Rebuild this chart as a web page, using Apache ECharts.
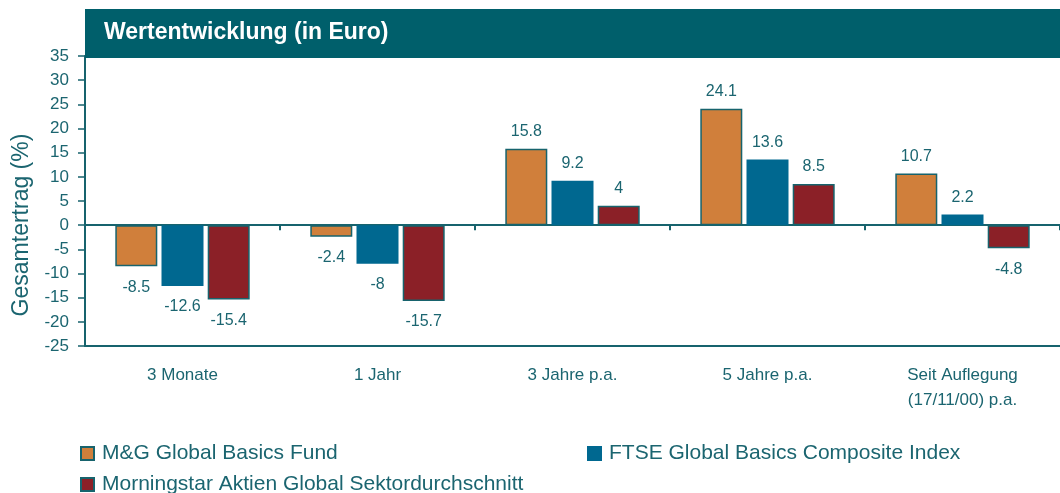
<!DOCTYPE html>
<html>
<head>
<meta charset="utf-8">
<script src="https://cdn.jsdelivr.net/npm/echarts@6/dist/echarts.min.js"></script>
<style>
  html, body { margin: 0; padding: 0; background: #fff; }
  #chart { width: 1060px; height: 493px; }
</style>
</head>
<body>
<div id="chart"></div>
<script>
// data
const categories = ['3 Monate', '1 Jahr', '3 Jahre p.a.', '5 Jahre p.a.', 'Seit Auflegung\n(17/11/00) p.a.']
const seriesNames = ['M&G Global Basics Fund', 'FTSE Global Basics Composite Index', 'Morningstar Aktien Global Sektordurchschnitt']
const fundValues = [-8.5, -2.4, 15.8, 24.1, 10.7]
const indexValues = [-12.6, -8, 9.2, 13.6, 2.2]
const sectorValues = [-15.4, -15.7, 4, 8.5, -4.8]

const teal = '#17636D'
const textCol = '#1B6570'
const colors = ['#D07F3B', '#006890', '#8B2027']
const borders = [teal, '#006890', teal]

const chart = echarts.init(document.getElementById('chart'))

const makeSeries = (name, data, idx) => ({
  name: name,
  type: 'bar',
  // negative bars get their label below
  data: data.map((v) => (v < 0 ? { value: v, label: { position: 'bottom', distance: 13 } } : v)),
  barWidth: 42,
  barGap: '10%',
  itemStyle: {
    color: colors[idx],
    borderColor: borders[idx],
    borderWidth: 1.5
  },
  label: {
    show: true,
    position: 'top',
    distance: 9,
    color: textCol,
    fontSize: 16,
    fontFamily: 'Liberation Sans'
  }
})

const series = [
  makeSeries(seriesNames[0], fundValues, 0),
  makeSeries(seriesNames[1], indexValues, 1),
  makeSeries(seriesNames[2], sectorValues, 2)
]

const legendBase = {
  icon: 'rect',
  itemWidth: 13,
  itemHeight: 13,
  textStyle: { color: textCol, fontSize: 21, fontFamily: 'Liberation Sans', padding: [0, 0, 0, 3] }
}

const option = {
  animation: false,
  grid: { left: 85, right: -15, top: 56, bottom: 147 },
  legend: [
    Object.assign({ data: [seriesNames[0]], left: 75, top: 438 }, legendBase),
    Object.assign({ data: [seriesNames[1]], left: 582, top: 438 }, legendBase),
    Object.assign({ data: [seriesNames[2]], left: 75, top: 469 }, legendBase)
  ],
  xAxis: [
    {
      type: 'category',
      data: categories,
      position: 'bottom',
      axisLine: { onZero: false, lineStyle: { color: teal, width: 2 } },
      axisTick: { show: false },
      axisLabel: {
        color: textCol,
        fontSize: 17,
        fontFamily: 'Liberation Sans',
        margin: 17,
        lineHeight: 25
      }
    },
    {
      type: 'category',
      data: categories,
      position: 'bottom',
      axisLine: { onZero: true, lineStyle: { color: teal, width: 2 } },
      axisTick: { show: true, length: 5, lineStyle: { color: teal, width: 2 } },
      axisLabel: { show: false }
    }
  ],
  yAxis: {
    type: 'value',
    min: -25,
    max: 35,
    interval: 5,
    axisLine: { show: true, lineStyle: { color: teal, width: 2 } },
    axisTick: { show: true, length: 7, lineStyle: { color: teal, width: 1.5 } },
    splitLine: { show: false },
    axisLabel: { color: textCol, fontSize: 17, fontFamily: 'Liberation Sans', margin: 16 }
  },
  graphic: [
    {
      type: 'rect',
      z: 100,
      shape: { x: 85, y: 9, width: 975, height: 49 },
      style: { fill: '#005F6B' }
    },
    {
      type: 'text',
      z: 101,
      x: 104,
      y: 33,
      style: {
        text: 'Wertentwicklung (in Euro)',
        fill: '#fff',
        font: 'bold 23px "Liberation Sans"',
        textVerticalAlign: 'middle'
      }
    },
    {
      type: 'text',
      x: 22,
      y: 225,
      rotation: Math.PI / 2,
      style: {
        text: 'Gesamtertrag (%)',
        fill: textCol,
        font: '23px "Liberation Sans"',
        textAlign: 'center',
        textVerticalAlign: 'middle'
      }
    }
  ],
  series: series
}

chart.setOption(option)
</script>
</body>
</html>
